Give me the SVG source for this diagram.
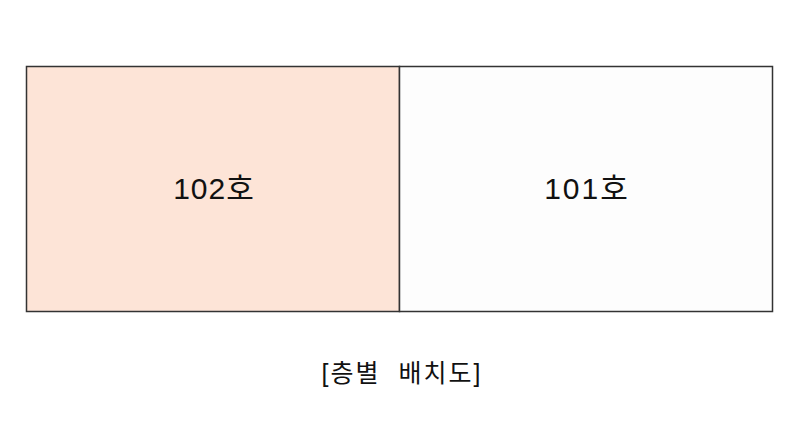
<svg xmlns="http://www.w3.org/2000/svg" width="800" height="444" viewBox="0 0 800 444">
<style>
.room{stroke:#333;stroke-width:1.5}
.lbl{font-family:"Liberation Sans","Noto Sans CJK KR",sans-serif;font-size:30px;fill:#111;text-anchor:middle}
.cap{font-family:"Liberation Sans","Noto Sans CJK KR",sans-serif;font-size:25px;fill:#111;text-anchor:middle}
</style>
<rect width="800" height="444" fill="#ffffff"/>
<g id="room102">
<rect class="room" x="26.5" y="66.5" width="373" height="245" fill="#fde4d7"/>
<text class="lbl" x="214" y="199" letter-spacing="1">102호</text>
</g>
<g id="room101">
<rect class="room" x="399.5" y="66.5" width="373" height="245" fill="#fdfdfd"/>
<text class="lbl" x="587" y="199" letter-spacing="2">101호</text>
</g>
<g id="connectors"/>
<text class="cap" x="402" y="382" letter-spacing="2" xml:space="preserve">[층별  배치도]</text>
</svg>
